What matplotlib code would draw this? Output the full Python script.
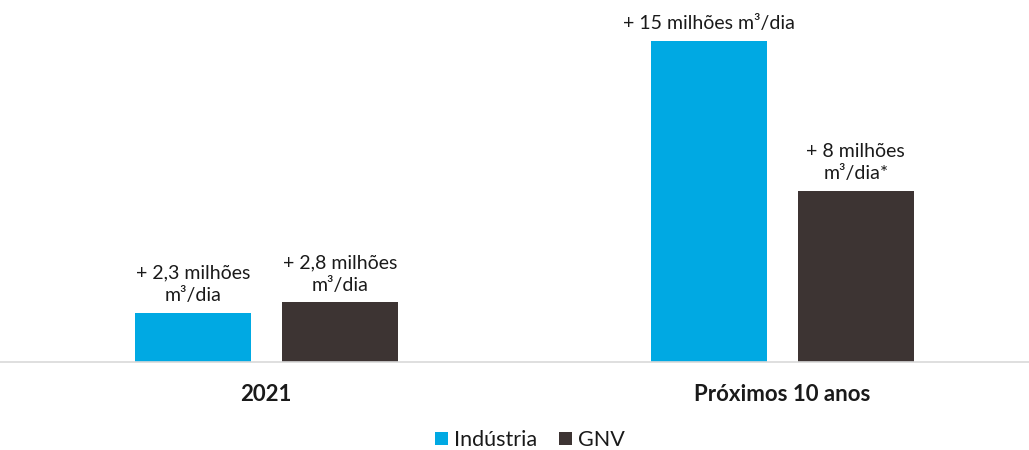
import matplotlib
matplotlib.use("Agg")
import matplotlib.pyplot as plt
import numpy as np

categories = ["2021", "Próximos 10 anos"]
series_names = ["Indústria", "GNV"]
industria = [2.3, 15.0]
gnv = [2.8, 8.0]
labels_industria = ["+ 2,3 milhões\nm³/dia", "+ 15 milhões m³/dia"]
labels_gnv = ["+ 2,8 milhões\nm³/dia", "+ 8 milhões\nm³/dia*"]
colors = ["#00A9E3", "#3D3433"]

plt.rcParams['font.family'] = ['Lato', 'DejaVu Sans']

fig = plt.figure(figsize=(10.29, 4.5), dpi=100)
ax = fig.add_axes([0, 88/450, 1, 362/450])

x = np.arange(len(categories))
w = 0.225
off = 0.1425
b1 = ax.bar(x - off, industria, w, color=colors[0], label=series_names[0])
b2 = ax.bar(x + off, gnv, w, color=colors[1], label=series_names[1])

for bars, labs in ((b1, labels_industria), (b2, labels_gnv)):
    for rect, lab in zip(bars, labs):
        ax.annotate(lab, (rect.get_x() + rect.get_width()/2, rect.get_height()),
                    xytext=(0, 6), textcoords="offset points",
                    ha="center", va="bottom", fontsize=14, color="#1a1a1a",
                    linespacing=1.4)

ax.set_xlim(-0.516, 1.478)
ax.set_ylim(0, 16.9)
ax.set_yticks([])
ax.set_xticks(x)
ax.set_xticklabels(categories, fontsize=16, fontweight="bold", color="#1a1a1a")
ax.tick_params(axis="x", length=0, pad=16)
for s in ("top", "right", "left"):
    ax.spines[s].set_visible(False)
ax.spines["bottom"].set_color("#d9d9d9")
ax.spines["bottom"].set_linewidth(1.2)

fig.legend(handles=[b1, b2], labels=series_names, loc="center",
           bbox_to_anchor=(530/1029, 1 - 440/450), ncol=2, frameon=False,
           fontsize=15.5, handlelength=0.6, handleheight=0.6, handletextpad=0.3,
           columnspacing=1.0, labelcolor="#1a1a1a")

fig.savefig("out.png", dpi=100)
